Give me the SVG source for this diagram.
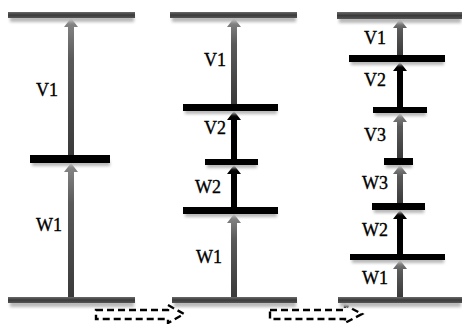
<svg xmlns="http://www.w3.org/2000/svg" width="462" height="324" viewBox="0 0 462 324">
<defs>
<linearGradient id="barg" x1="0" y1="0" x2="0" y2="1">
<stop offset="0" stop-color="#6a6a6a"/><stop offset="0.5" stop-color="#3a3a3a"/><stop offset="1" stop-color="#555"/>
</linearGradient>
<linearGradient id="arrg" x1="0" y1="1" x2="0" y2="0">
<stop offset="0" stop-color="#3a3a3a"/><stop offset="0.7" stop-color="#5a5a5a"/><stop offset="1" stop-color="#8a8a8a"/>
</linearGradient>
<filter id="sh" x="-10%" y="-100%" width="120%" height="300%"><feGaussianBlur stdDeviation="1.6"/></filter>
</defs>
<style>
.big{fill:url(#barg)}
.mid{fill:#000}
.shd{fill:#b8b8b8;filter:url(#sh)}
.ga{fill:url(#arrg)}
.ba{fill:#000}
text{font-family:"Liberation Serif","Times New Roman",serif;font-size:18px;fill:#000;stroke:#000;stroke-width:0.35}
.dash{fill:none;stroke:#000;stroke-width:2.4;stroke-dasharray:7 4}
</style>
<rect width="462" height="324" fill="#fff"/>

<g id="connectors">
<!-- column 1 -->
<polygon class="ga" points="68,297 74,297 74,172 78,172 71,163 64,172 68,172"/>
<polygon class="ga" points="68,155 74,155 74,27 78,27 71,18 64,27 68,27"/>
<!-- column 2 -->
<polygon class="ga" points="231,105 237,105 237,27 241,27 234,18 227,27 231,27"/>
<polygon class="ba" points="231,160 237,160 237,120 241,120 234,111 227,120 231,120"/>
<polygon class="ba" points="231,208 237,208 237,174 241,174 234,165 227,174 231,174"/>
<polygon class="ga" points="231,297 237,297 237,223 241,223 234,214 227,223 231,223"/>
<!-- column 3 -->
<polygon class="ga" points="397,55 403,55 403,28 407,28 400,19 393,28 397,28"/>
<polygon class="ba" points="397,107 403,107 403,71 407,71 400,62 393,71 397,71"/>
<polygon class="ga" points="397,158 403,158 403,122 407,122 400,113 393,122 397,122"/>
<polygon class="ga" points="397,203 403,203 403,174 407,174 400,165 393,174 397,174"/>
<polygon class="ba" points="397,254 403,254 403,219 407,219 400,210 393,219 397,219"/>
<polygon class="ga" points="397,297 403,297 403,269 407,269 400,260 393,269 397,269"/>
<!-- transition arrows -->
<path class="dash" d="M96,310 H168 V305 L184,314 L168,323 V319 H96 Z"/>
<path class="dash" d="M270,310 H345 V305 L362,314 L345,323 V319 H270 Z"/>
</g>

<g id="col1-top"><rect class="shd" x="10" y="16" width="124" height="6"/><rect class="big" x="8" y="12" width="127" height="6"/></g>
<g id="col1-mid"><rect class="shd" x="32" y="161" width="78" height="5"/><rect class="mid" x="30" y="155" width="80" height="8"/></g>
<g id="col1-bottom"><rect class="shd" x="10" y="301" width="124" height="6"/><rect class="big" x="8" y="297" width="127" height="6"/></g>
<g id="col1-labels"><text x="36" y="96">V1</text><text x="36" y="231">W1</text></g>

<g id="col2-top"><rect class="shd" x="172" y="16" width="124" height="6"/><rect class="big" x="170" y="12" width="127" height="6"/></g>
<g id="col2-b1"><rect class="shd" x="185" y="109" width="92" height="5"/><rect class="mid" x="183" y="104" width="95" height="7"/></g>
<g id="col2-b2"><rect class="shd" x="207" y="163" width="50" height="5"/><rect class="mid" x="205" y="159" width="53" height="6"/></g>
<g id="col2-b3"><rect class="shd" x="185" y="212" width="92" height="5"/><rect class="mid" x="183" y="207" width="95" height="7"/></g>
<g id="col2-bottom"><rect class="shd" x="174" y="301" width="122" height="6"/><rect class="big" x="172" y="297" width="125" height="6"/></g>
<g id="col2-labels"><text x="204" y="66">V1</text><text x="204" y="134">V2</text><text x="195" y="193">W2</text><text x="196" y="263">W1</text></g>

<g id="col3-top"><rect class="shd" x="339" y="17" width="122" height="6"/><rect class="big" x="337" y="12" width="125" height="7"/></g>
<g id="col3-b1"><rect class="shd" x="351" y="60" width="93" height="5"/><rect class="mid" x="349" y="55" width="96" height="7"/></g>
<g id="col3-b2"><rect class="shd" x="375" y="111" width="51" height="5"/><rect class="mid" x="373" y="107" width="54" height="6"/></g>
<g id="col3-b3"><rect class="shd" x="386" y="163" width="26" height="5"/><rect class="mid" x="384" y="158" width="29" height="7"/></g>
<g id="col3-b4"><rect class="shd" x="374" y="208" width="50" height="5"/><rect class="mid" x="372" y="203" width="53" height="7"/></g>
<g id="col3-b5"><rect class="shd" x="352" y="258" width="92" height="5"/><rect class="mid" x="350" y="254" width="95" height="6"/></g>
<g id="col3-bottom"><rect class="shd" x="340" y="301" width="121" height="6"/><rect class="big" x="338" y="297" width="124" height="6"/></g>
<g id="col3-labels"><text x="364" y="44">V1</text><text x="364" y="86">V2</text><text x="364" y="141">V3</text><text x="362" y="189">W3</text><text x="362" y="236">W2</text><text x="362" y="284">W1</text></g>
</svg>
